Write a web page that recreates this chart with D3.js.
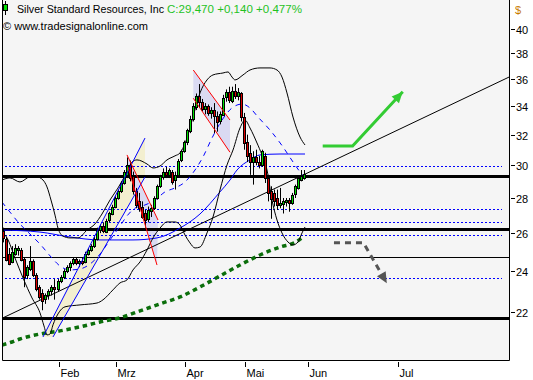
<!DOCTYPE html>
<html>
<head>
<meta charset="utf-8">
<script src="https://cdn.jsdelivr.net/npm/d3@7"></script>
<style>
  body { margin: 0; background: #fff; }
  svg { display: block; }
  text { font-family: "Liberation Sans", Arial, sans-serif; font-size: 11px; }
</style>
</head>
<body>
<svg id="chart" width="533" height="380"></svg>
<script>
/**
 * Silver Standard Resources daily candles, Jan - May 2011.
 * Bar index 1 is the first (partly hidden) January session.
 */
const firstBar = 1;
const opens = [27.9, 26.1, 25.7, 24.9, 24.5, 24.9, 25.1, 25.1, 24.6, 23.8, 24.1, 24.5, 23.8, 23.2, 22.9, 22.6, 22.8, 23.0, 23.2, 23.1,
  23.5, 23.7, 24.0, 24.2, 24.4, 24.6, 24.4, 24.5, 24.5, 24.9, 25.1, 25.3, 25.7, 26.2, 26.4, 26.1, 26.7, 27.1, 27.5, 28.0,
  28.4, 28.9, 29.4, 30.0, 29.3, 28.4, 27.8, 27.5, 27.1, 26.8, 27.2, 27.4, 28.0, 28.7, 29.3, 29.6, 29.4, 29.6, 29.1, 29.4,
  30.3, 30.9, 31.5, 32.3, 33.1, 33.9, 34.7, 34.3, 33.8, 34.0, 33.5, 33.7, 33.3, 32.9, 33.4, 34.6, 35.0, 34.4, 35.1, 34.7,
  34.9, 33.2, 31.5, 30.8, 30.2, 30.5, 30.2, 30.0, 30.6, 29.2, 28.4, 28.3, 28.0, 27.6, 27.6, 27.8, 27.9, 27.7, 28.2, 28.6,
  29.1, 29.2];
const highs = [28.0, 26.3, 25.8, 25.2, 25.3, 25.4, 25.3, 25.2, 24.7, 24.3, 25.3, 24.6, 23.9, 23.3, 23.1, 22.9, 23.1, 23.3, 23.6, 23.6,
  23.8, 24.1, 24.3, 24.5, 24.7, 24.7, 24.6, 24.7, 25.0, 25.2, 25.4, 25.8, 26.3, 26.5, 26.6, 26.8, 27.2, 27.6, 28.1, 28.5,
  29.0, 29.7, 30.5, 30.3, 29.6, 28.6, 28.3, 27.8, 27.3, 27.5, 27.6, 28.1, 28.8, 29.4, 29.8, 29.9, 29.8, 29.7, 29.6, 30.4,
  31.0, 31.6, 32.4, 33.3, 34.2, 34.9, 35.6, 34.5, 34.2, 34.1, 33.9, 34.2, 33.6, 33.6, 34.8, 35.2, 35.4, 35.4, 35.6, 35.3,
  35.0, 33.5, 32.0, 31.3, 30.9, 31.0, 30.6, 31.0, 30.8, 29.4, 28.7, 28.5, 28.5, 28.6, 28.0, 28.0, 28.0, 28.3, 28.8, 29.3,
  29.7, 29.7];
const lows = [25.6, 25.5, 24.5, 24.3, 24.4, 24.8, 24.8, 24.5, 23.2, 23.6, 24.0, 23.7, 23.0, 22.6, 22.1, 22.4, 22.6, 22.8, 22.6, 23.0,
  23.4, 23.6, 23.9, 24.0, 24.3, 24.3, 24.2, 24.3, 24.4, 24.8, 25.0, 25.2, 25.6, 26.0, 26.0, 26.0, 26.6, 27.0, 27.4, 27.9,
  28.3, 28.8, 29.2, 29.0, 28.2, 27.4, 27.2, 26.8, 26.3, 26.6, 26.9, 27.3, 27.9, 28.6, 29.1, 29.2, 29.2, 28.8, 28.5, 29.3,
  30.2, 30.8, 31.3, 32.1, 32.9, 33.7, 33.9, 33.6, 33.4, 33.3, 33.1, 32.1, 32.2, 32.7, 33.3, 34.3, 34.2, 34.2, 34.5, 34.4,
  32.9, 31.0, 30.2, 29.4, 28.8, 30.0, 29.8, 29.9, 28.9, 27.8, 26.8, 27.5, 27.3, 27.4, 27.1, 27.5, 27.2, 27.6, 28.0, 28.5,
  29.0, 29.1];
const closes = [25.7, 25.7, 24.6, 24.4, 25.0, 25.2, 25.2, 24.6, 23.7, 24.2, 24.5, 23.8, 23.1, 22.7, 22.5, 22.8, 23.0, 23.2, 23.1, 23.5,
  23.7, 24.0, 24.2, 24.4, 24.6, 24.4, 24.5, 24.4, 24.9, 25.1, 25.3, 25.7, 26.2, 26.4, 26.1, 26.7, 27.1, 27.5, 28.0, 28.4,
  28.9, 29.6, 30.0, 29.2, 28.4, 27.6, 27.4, 26.9, 26.7, 27.3, 27.4, 28.0, 28.7, 29.3, 29.6, 29.4, 29.7, 29.0, 29.4, 30.3,
  30.9, 31.5, 32.3, 33.1, 34.0, 34.7, 34.3, 33.8, 34.0, 33.5, 33.7, 33.3, 32.9, 33.4, 34.6, 35.0, 34.4, 35.1, 34.7, 35.0,
  33.2, 31.4, 30.6, 30.2, 30.5, 30.2, 30.0, 30.9, 29.2, 28.3, 27.9, 27.8, 27.6, 27.7, 27.8, 27.9, 27.7, 28.2, 28.7, 29.2,
  29.33, 29.47];

// indicator lines, [bar index, price]
const bbUpper = [[1.19, 29.08], [3.85, 29.21], [7.18, 28.96], [10.51, 29.27], [12.84, 29.27], [14.84, 29.08], [16.17, 28.66],
  [17.5, 27.88], [18.84, 27.01], [19.83, 26.28], [21.5, 25.84], [23.83, 25.74], [26.49, 25.74], [29.49, 26.17], [32.15, 26.51],
  [34.48, 27.07], [37.14, 27.88], [39.81, 28.6], [42.8, 29.58], [44.47, 30.2], [46.13, 30.34], [49.46, 30.08], [51.46, 29.83],
  [53.79, 29.95], [56.12, 30.34], [58.78, 30.6], [60.45, 30.79], [62.77, 31.77], [64.77, 33.21], [67.1, 34.94], [69.43, 35.91],
  [71.43, 36.29], [74.76, 36.44], [76.43, 36.52], [77.76, 36.13], [78.76, 35.91], [81.42, 36.29], [83.75, 36.67], [87.08, 36.83],
  [90.41, 36.83], [92.74, 36.67], [94.4, 36.13], [96.06, 34.94], [98.06, 33.21], [100.4, 31.84], [102.06, 31.31]];
const bbLower = [[1.19, 26.06], [2.86, 25.74], [5.52, 24.67], [8.18, 23.66], [11.18, 22.68], [13.84, 21.98], [15.17, 21.38],
  [16.17, 20.98], [17.17, 21.02], [18.17, 21.43], [19.83, 21.93], [22.16, 22.26], [27.16, 22.35], [32.82, 22.44], [34.81, 22.59],
  [38.14, 23.07], [40.47, 23.41], [42.8, 23.56], [44.8, 24.06], [47.13, 24.47], [49.46, 25.09], [51.46, 25.74], [53.79, 26.28],
  [56.12, 26.62], [58.78, 26.62], [60.45, 26.45], [62.11, 25.9], [63.77, 25.47], [65.44, 25.2], [67.1, 25.25], [69.43, 26.01],
  [71.43, 26.9], [73.76, 28.48], [76.1, 30.02], [78.09, 30.98], [80.42, 32.45], [82.09, 33.0], [83.75, 32.45], [86.08, 31.44],
  [87.74, 30.66], [89.41, 29.7], [91.07, 27.88], [92.74, 26.73], [94.4, 26.01], [96.4, 25.52], [98.06, 25.36], [99.72, 25.52],
  [101.06, 26.01], [102.06, 26.34]];
const bbMiddle = [[1.19, 27.76], [3.85, 27.18], [6.52, 26.62], [10.51, 25.95], [13.84, 25.41], [17.84, 24.67], [20.5, 24.26],
  [23.83, 24.06], [27.16, 24.11], [30.49, 24.36], [33.82, 24.88], [37.14, 25.63], [40.47, 26.39], [42.8, 26.96], [45.47, 27.41],
  [48.8, 27.59], [52.12, 27.88], [55.45, 28.36], [58.78, 28.6], [62.11, 28.96], [65.44, 29.7], [68.1, 30.53], [71.1, 31.77],
  [74.43, 33.0], [77.76, 33.85], [81.09, 34.13], [83.75, 33.85], [86.41, 33.21], [90.41, 32.31], [94.73, 31.18], [98.06, 30.21],
  [100.4, 29.58], [102.06, 29.21]];
const avgSlow = [[1.19, 26.17], [13.84, 26.06], [23.83, 25.79], [33.82, 25.63], [44.8, 25.63], [52.79, 25.74], [60.45, 26.28],
  [67.1, 27.07], [73.76, 28.36], [77.09, 29.08], [79.42, 29.7], [83.75, 30.34], [87.08, 30.66], [93.74, 30.72], [102.06, 30.72]];
const avgLong = [[1.19, 20.54], [4.52, 20.67], [7.18, 20.8], [13.84, 21.02], [20.5, 21.16], [27.16, 21.34], [33.82, 21.56],
  [40.47, 21.75], [47.13, 22.07], [53.79, 22.4], [60.45, 22.73], [67.1, 23.21], [73.76, 23.76], [80.42, 24.31], [87.08, 24.83],
  [93.74, 25.25], [99.06, 25.52], [101.39, 25.79]];

// drawn levels and lines
const thickLevels = [29.35, 26.23, 21.75];
const thinLevels = [24.72];
const dottedLevels = [29.95, 27.36, 26.62, 25.9, 23.66];
const trendLine = [[1.53, 21.75], [170, 36.13]];
const upChannel = [[14.84, 20.89], [48.8, 31.77], [48.8, 29.27], [18.17, 20.89]];
const upChannelLines = [[[14.84, 20.89], [48.8, 31.77]], [[18.17, 20.89], [48.8, 29.27]]];
const flagMarch = [[42.8, 30.66], [53.12, 26.73], [52.79, 24.31], [43.14, 29.89]];
const flagApril = [[64.87, 36.67], [77.09, 33.0], [77.09, 30.83], [64.87, 34.55]];
const bullArrow = [[107.95, 31.24], [117.9, 31.24], [134.6, 35.03]];
const bearArrow = [[111.7, 25.48], [121.5, 25.48], [129.3, 23.39]];

const priceTicks = [22, 24, 26, 28, 30, 32, 34, 36, 38, 40];
const monthTicks = [['Feb', 20], ['Mrz', 39], ['Apr', 62], ['Mai', 82], ['Jun', 103], ['Jul', 133]];

const plot = { left: 2, right: 509, top: 0, bottom: 360 };
const x = d3.scaleLinear().domain([0, 170]).range([-1.58, 509.1]);
const y = d3.scaleLog().domain([19.9, 42.5]).range([plot.bottom, plot.top]);

const svg = d3.select('#chart');
svg.append('rect').attr('width', 533).attr('height', 380).attr('fill', '#fff');

svg.append('defs').append('clipPath').attr('id', 'plotClip')
  .append('rect')
  .attr('x', plot.left).attr('y', plot.top)
  .attr('width', plot.right - plot.left).attr('height', plot.bottom - plot.top);

svg.append('rect')
  .attr('x', plot.left).attr('y', plot.top)
  .attr('width', plot.right - plot.left).attr('height', plot.bottom - plot.top)
  .attr('fill', '#f5f5f5');

const g = svg.append('g').attr('clip-path', 'url(#plotClip)');
const line = d3.line().x(d => x(d[0])).y(d => y(d[1]));
const smooth = d3.line().x(d => x(d[0])).y(d => y(d[1])).curve(d3.curveMonotoneX);
const crisp = v => Math.round(v) + 0.5;

// shaded drawing areas
g.append('path').attr('d', line(upChannel) + 'Z').attr('fill', '#f3efd0');
g.append('path').attr('d', line(flagMarch) + 'Z').attr('fill', '#dadaf2');
g.append('path').attr('d', line(flagApril) + 'Z').attr('fill', '#dadaf2');

// horizontal levels
g.selectAll('line.dotted').data(dottedLevels).enter().append('line')
  .attr('x1', Math.round(x(2.2))).attr('x2', Math.round(x(167.5)))
  .attr('y1', d => crisp(y(d))).attr('y2', d => crisp(y(d)))
  .attr('stroke', '#0000ff').attr('stroke-dasharray', '2,2')
  .attr('shape-rendering', 'crispEdges');
g.selectAll('line.thin').data(thinLevels).enter().append('line')
  .attr('x1', plot.left).attr('x2', plot.right)
  .attr('y1', d => crisp(y(d))).attr('y2', d => crisp(y(d)))
  .attr('stroke', '#000');
g.selectAll('line.thick').data(thickLevels).enter().append('line')
  .attr('x1', plot.left).attr('x2', plot.right)
  .attr('y1', d => crisp(y(d))).attr('y2', d => crisp(y(d)))
  .attr('stroke', '#000').attr('stroke-width', 3);

// indicators
g.append('path').attr('d', smooth(avgLong)).attr('fill', 'none')
  .attr('stroke', '#0b6e0b').attr('stroke-width', 3.5).attr('stroke-dasharray', '4.5,3.8');
g.append('path').attr('d', smooth(avgSlow)).attr('fill', 'none').attr('stroke', '#0000ff');
g.append('path').attr('d', smooth(bbMiddle)).attr('fill', 'none')
  .attr('stroke', '#0000ff').attr('stroke-dasharray', '5,5');
[bbUpper, bbLower].forEach(band => {
  g.append('path').attr('d', smooth(band)).attr('fill', 'none').attr('stroke', '#000');
});
g.append('path').attr('d', line(trendLine)).attr('fill', 'none').attr('stroke', '#000');

// candles
const bars = closes.map((c, k) => ({ i: firstBar + k, o: opens[k], h: highs[k], l: lows[k], c: c }));
const candle = g.selectAll('g.candle').data(bars).enter().append('g');
candle.append('line')
  .attr('x1', d => Math.round(x(d.i)) - 0.5).attr('x2', d => Math.round(x(d.i)) - 0.5)
  .attr('y1', d => y(d.h)).attr('y2', d => y(d.l))
  .attr('stroke', '#000');
candle.append('rect')
  .attr('x', d => Math.round(x(d.i)) - 1.5)
  .attr('y', d => Math.round(y(Math.max(d.o, d.c))) + 0.5)
  .attr('width', 2)
  .attr('height', d => Math.max(1, Math.round(Math.abs(y(d.o) - y(d.c)))))
  .attr('fill', d => (d.c >= d.o ? '#00dd00' : '#dd0000'))
  .attr('stroke', '#000');

// channel lines on top of the candles
upChannelLines.forEach(l => {
  g.append('path').attr('d', line(l)).attr('fill', 'none').attr('stroke', '#0000ff');
});
[flagMarch, flagApril].forEach(f => {
  g.append('path').attr('d', line([f[0], f[1]])).attr('fill', 'none').attr('stroke', '#ff0000');
  g.append('path').attr('d', line([f[3], f[2]])).attr('fill', 'none').attr('stroke', '#ff0000');
});

// projection arrows
function arrow(points, color, width, dash) {
  g.append('path').attr('d', line(points)).attr('fill', 'none')
    .attr('stroke', color).attr('stroke-width', width)
    .attr('stroke-dasharray', dash || null);
  const a = points[points.length - 2];
  const b = points[points.length - 1];
  const x1 = x(a[0]), y1 = y(a[1]), x2 = x(b[0]), y2 = y(b[1]);
  const ang = Math.atan2(y2 - y1, x2 - x1);
  const len = 11, half = 5;
  const bx = x2 - len * Math.cos(ang), by = y2 - len * Math.sin(ang);
  const head = [[x2, y2],
    [bx + half * Math.sin(ang), by - half * Math.cos(ang)],
    [bx - half * Math.sin(ang), by + half * Math.cos(ang)]];
  g.append('path').attr('d', d3.line()(head) + 'Z').attr('fill', color);
}
arrow(bullArrow, '#33cc33', 3);
arrow(bearArrow, '#555555', 3, '6,5');

// frame
svg.append('path')
  .attr('d', `M${plot.left + 0.5},${plot.top - 1}V${plot.bottom + 0.5}H${plot.right + 0.5}V${plot.top - 1}`)
  .attr('fill', 'none').attr('stroke', '#000');

// price axis
const yAxis = svg.append('g');
priceTicks.forEach(v => {
  const py = Math.round(y(v)) + 0.5;
  yAxis.append('line').attr('x1', 511).attr('x2', 515).attr('y1', py).attr('y2', py).attr('stroke', '#000');
  yAxis.append('text').attr('x', 516).attr('y', py + 4).text(v);
});
yAxis.append('text').attr('x', 515).attr('y', 14).attr('fill', '#c87a00').text('$');

// time axis
const xAxis = svg.append('g');
monthTicks.forEach(m => {
  const px = Math.round(x(m[1])) + 0.5;
  xAxis.append('line').attr('x1', px).attr('x2', px).attr('y1', 362).attr('y2', 367).attr('stroke', '#000');
  xAxis.append('text').attr('x', px + 1).attr('y', 377).text(m[0]);
});

// legend
const legend = svg.append('g');
legend.append('line').attr('x1', 5.5).attr('x2', 5.5).attr('y1', 1).attr('y2', 15).attr('stroke', '#000');
legend.append('rect').attr('x', 3.5).attr('y', 4.5).attr('width', 4).attr('height', 6)
  .attr('fill', '#00dd00').attr('stroke', '#000');
legend.append('text').attr('x', 17).attr('y', 13)
  .attr('textLength', 147).attr('lengthAdjust', 'spacingAndGlyphs')
  .text('Silver Standard Resources, Inc');
legend.append('text').attr('x', 167).attr('y', 13).attr('fill', '#1fc21f')
  .attr('textLength', 135).attr('lengthAdjust', 'spacingAndGlyphs')
  .text('C:29,470 +0,140 +0,477%');
legend.append('text').attr('x', 3).attr('y', 30)
  .attr('textLength', 145).attr('lengthAdjust', 'spacingAndGlyphs')
  .text('\u00a9 www.tradesignalonline.com');
</script>
</body>
</html>
